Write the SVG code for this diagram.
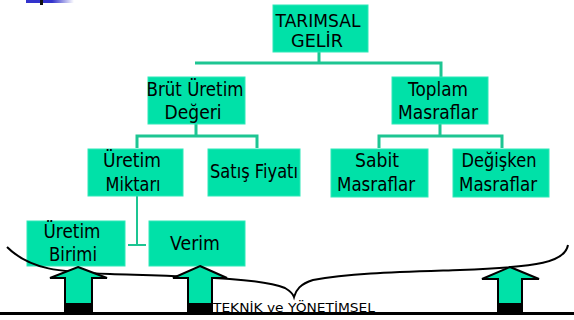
<svg xmlns="http://www.w3.org/2000/svg" width="574" height="320" viewBox="0 0 574 320">
<defs>
<linearGradient id="bg" x1="0" x2="1" y1="0" y2="0">
<stop offset="0" stop-color="#3333CC"/><stop offset="1" stop-color="#3333CC" stop-opacity="0"/>
</linearGradient>
</defs>
<style>
.box{fill:#00E1A8;stroke:#2EE8B8;stroke-width:1}
.t{font-family:"DejaVu Sans",sans-serif;font-size:19px;fill:#000;text-anchor:middle}
.c{fill:none;stroke:#1DC592;stroke-width:3}
.arr{fill:#00E1A8;stroke:#000;stroke-width:2}
</style>
<rect x="26" y="0" width="26" height="3" fill="#3333CC"/>
<rect x="52" y="0" width="22" height="3" fill="url(#bg)"/>
<rect x="40" y="0" width="3" height="5" fill="#111"/>
<g id="connectors">
<path class="c" d="M319 52V63M195 63H441V77M196 124V136M137 148V136H257V148M440 124V136M379 148V136H502V148"/>
<path d="M137 196V245M128 245H146" fill="none" stroke="#1DC592" stroke-width="2"/>
</g>
<g id="n-tarimsal"><rect class="box" x="273" y="5" width="95" height="47"/><text class="t" x="318" y="27" font-size="17" textLength="85" lengthAdjust="spacingAndGlyphs" style="font-size:17px">TARIMSAL</text><text class="t" x="317" y="47" textLength="52" lengthAdjust="spacingAndGlyphs" style="font-size:17px">GELİR</text></g>
<g id="n-brut"><rect class="box" x="148" y="77" width="97" height="47"/><text class="t" x="195" y="96" textLength="97" lengthAdjust="spacingAndGlyphs">Brüt Üretim</text><text class="t" x="193" y="119" textLength="57" lengthAdjust="spacingAndGlyphs">Değeri</text></g>
<g id="n-toplam"><rect class="box" x="392" y="77" width="96" height="47"/><text class="t" x="438" y="96" textLength="60" lengthAdjust="spacingAndGlyphs">Toplam</text><text class="t" x="438" y="119" textLength="80" lengthAdjust="spacingAndGlyphs">Masraflar</text></g>
<g id="n-miktar"><rect class="box" x="88" y="149" width="95" height="47"/><text class="t" x="132" y="167" textLength="58" lengthAdjust="spacingAndGlyphs">Üretim</text><text class="t" x="133" y="191" textLength="55" lengthAdjust="spacingAndGlyphs">Miktarı</text></g>
<g id="n-satis"><rect class="box" x="208" y="149" width="92" height="47"/><text class="t" x="254" y="178" textLength="88" lengthAdjust="spacingAndGlyphs">Satış Fiyatı</text></g>
<g id="n-sabit"><rect class="box" x="331" y="149" width="97" height="48"/><text class="t" x="377" y="167" textLength="44" lengthAdjust="spacingAndGlyphs">Sabit</text><text class="t" x="376" y="191" textLength="78" lengthAdjust="spacingAndGlyphs">Masraflar</text></g>
<g id="n-degisken"><rect class="box" x="453" y="149" width="96" height="48"/><text class="t" x="499" y="167" textLength="75" lengthAdjust="spacingAndGlyphs">Değişken</text><text class="t" x="498" y="191" textLength="78" lengthAdjust="spacingAndGlyphs">Masraflar</text></g>
<g id="n-birim"><rect class="box" x="27" y="221" width="98" height="45"/><text class="t" x="72" y="238" textLength="57" lengthAdjust="spacingAndGlyphs">Üretim</text><text class="t" x="73" y="261" textLength="48" lengthAdjust="spacingAndGlyphs">Birimi</text></g>
<g id="n-verim"><rect class="box" x="149" y="221" width="96" height="45"/><text class="t" x="195" y="250" textLength="50" lengthAdjust="spacingAndGlyphs">Verim</text></g>
<g id="brace">
<path d="M7 247C30 270 60 272 110 274C200 277 260 278 285 288C290 291 293 294 294 297C296 290 300 284 313 280C350 273 400 272 460 270C540 267 565 262 568 245" fill="none" stroke="#000" stroke-width="2"/>
</g>
<g id="arrows">
<path class="arr" d="M78 267L107 278H92V312H65V278H50Z"/>
<rect x="65" y="303" width="27" height="9" fill="#000"/>
<path class="arr" d="M200 266L227 278H212V312H188V278H173Z"/>
<rect x="188" y="303" width="24" height="9" fill="#000"/>
<path class="arr" d="M510 267L539 279H522V312H498V279H482Z"/>
<rect x="498" y="303" width="24" height="9" fill="#000"/>
</g>
<rect x="0" y="312" width="574" height="3" fill="#000"/>
<text x="213" y="312" font-family="DejaVu Sans,sans-serif" font-size="13" textLength="162" lengthAdjust="spacingAndGlyphs" fill="#000">TEKNİK ve YÖNETİMSEL</text>
</svg>
